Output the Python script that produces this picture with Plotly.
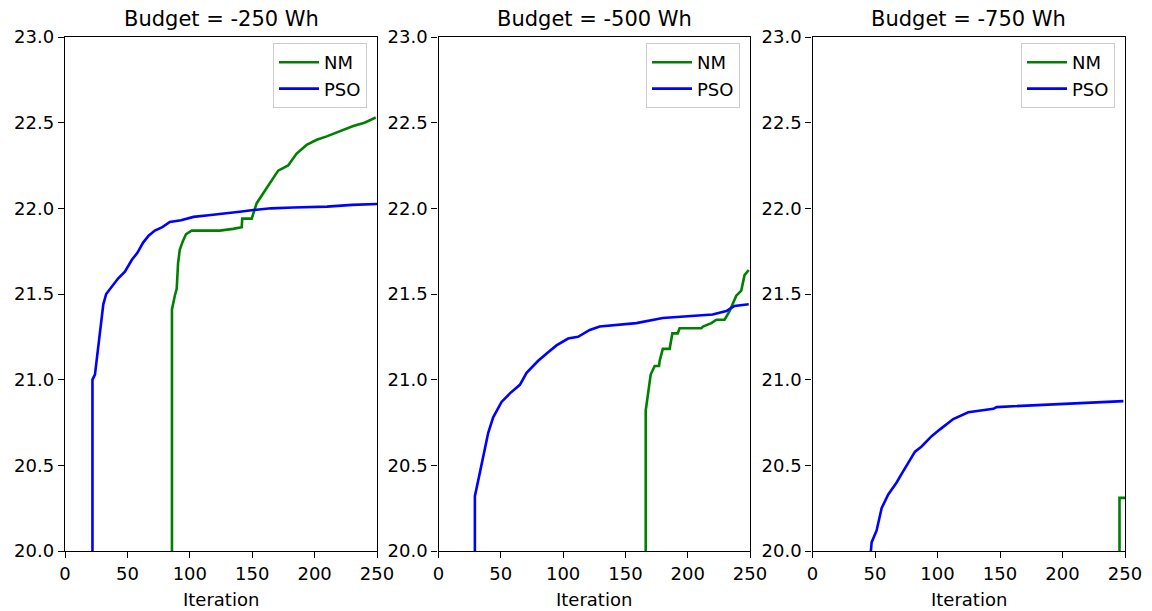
import plotly.graph_objects as go

# ---------------- data ----------------
titles = ["Budget = -250 Wh", "Budget = -500 Wh", "Budget = -750 Wh"]
x_label = "Iteration"
x_ticks = [0, 50, 100, 150, 200, 250]
y_ticks = [20.0, 20.5, 21.0, 21.5, 22.0, 22.5, 23.0]

# Budget -250
pso1_x = [22, 22, 24, 26, 28, 30.7, 33, 36, 42.5, 48, 53.6, 58, 62.6, 67, 72, 78, 84, 93, 103, 115, 129.6, 140, 151, 165, 183, 210, 230, 250]
pso1_y = [18.0, 21.00, 21.03, 21.15, 21.29, 21.44, 21.50, 21.53, 21.59, 21.63, 21.70, 21.74, 21.80, 21.84, 21.87, 21.89, 21.92, 21.93, 21.95, 21.96, 21.97, 21.98, 21.99, 22.00, 22.005, 22.01, 22.02, 22.025]
nm1_x = [85.7, 85.7, 88, 89.5, 90.6, 92, 94.5, 97, 101.5, 124, 134.6, 141.6, 142, 149.6, 153.6, 159, 165.6, 170.8, 178.8, 185.6, 193.6, 201.7, 209.7, 223, 231, 240, 249]
nm1_y = [18.0, 21.41, 21.49, 21.53, 21.68, 21.76, 21.81, 21.85, 21.87, 21.87, 21.88, 21.89, 21.94, 21.94, 22.03, 22.09, 22.16, 22.22, 22.25, 22.32, 22.37, 22.40, 22.42, 22.46, 22.48, 22.50, 22.53]

# Budget -500
pso2_x = [29.2, 29.2, 32.7, 35.9, 39.9, 43.9, 50.6, 57.3, 65.3, 70.7, 80, 88, 94.7, 104, 112, 121.4, 129.4, 158.8, 180, 220, 231, 237.6, 249]
pso2_y = [18.0, 20.32, 20.44, 20.55, 20.69, 20.78, 20.87, 20.92, 20.97, 21.04, 21.11, 21.16, 21.20, 21.24, 21.25, 21.29, 21.31, 21.33, 21.36, 21.38, 21.40, 21.43, 21.44]
nm2_x = [166.3, 166.3, 170.3, 173.5, 177, 177.5, 180, 185.5, 187.7, 192, 193.5, 210.9, 212.2, 219, 223, 229.6, 233.6, 239, 243, 245.6, 249]
nm2_y = [18.0, 20.82, 21.03, 21.08, 21.08, 21.11, 21.18, 21.18, 21.27, 21.27, 21.30, 21.30, 21.31, 21.33, 21.35, 21.35, 21.40, 21.49, 21.52, 21.61, 21.64]

# Budget -750
pso3_x = [44.5, 47.3, 51.3, 55.3, 60.6, 67.3, 71.3, 78, 82, 87.3, 95.3, 102, 112.6, 124.6, 144.7, 147.3, 176.6, 224.7, 248.7]
pso3_y = [19.80, 20.05, 20.12, 20.25, 20.33, 20.40, 20.45, 20.53, 20.58, 20.61, 20.67, 20.71, 20.77, 20.81, 20.83, 20.84, 20.85, 20.865, 20.875]
nm3_x = [245.6, 245.6, 250]
nm3_y = [18.0, 20.31, 20.31]

series = [
    (nm1_x, nm1_y, pso1_x, pso1_y),
    (nm2_x, nm2_y, pso2_x, pso2_y),
    (nm3_x, nm3_y, pso3_x, pso3_y),
]

# ---------------- layout geometry ----------------
# the page body adds an 8px margin, so the figure is drawn 8px in from the corner
OFF = 8
W, H = 1152 - OFF, 611 - OFF
x_px = [(65 - OFF, 377 - OFF), (438.5 - OFF, 750 - OFF), (812.5 - OFF, 1125 - OFF)]
y_top, y_bot = 37 - OFF, 551 - OFF
ydom = [(H - y_bot) / H, (H - y_top) / H]

fig = go.Figure()
font = "DejaVu Sans, Verdana, sans-serif"
fs = 18

for i, (nx, ny, px, py) in enumerate(series):
    ax = "" if i == 0 else str(i + 1)
    leg = "legend" if i == 0 else f"legend{i + 1}"
    fig.add_trace(go.Scatter(x=nx, y=ny, mode="lines", name="NM",
                             line=dict(color="green", width=2.6),
                             xaxis=f"x{ax}", yaxis=f"y{ax}", legend=leg,
                             legendgroup=f"nm{i}"))
    fig.add_trace(go.Scatter(x=px, y=py, mode="lines", name="PSO",
                             line=dict(color="blue", width=2.6),
                             xaxis=f"x{ax}", yaxis=f"y{ax}", legend=leg,
                             legendgroup=f"pso{i}"))

layout = dict(
    width=W, height=H,
    margin=dict(l=0, r=0, t=0, b=0, autoexpand=False),
    plot_bgcolor="white", paper_bgcolor="white",
    font=dict(family=font, size=fs, color="black"),
    showlegend=True,
    annotations=[],
)

axis_common = dict(showline=True, mirror=True, linecolor="black", linewidth=1.4,
                   ticks="outside", ticklen=6, tickwidth=1.4, tickcolor="black",
                   showgrid=False, zeroline=False, automargin=False,
                   tickfont=dict(family=font, size=fs, color="black"))

for i in range(3):
    ax = "" if i == 0 else str(i + 1)
    x0, x1 = x_px[i]
    layout[f"xaxis{ax}"] = dict(
        domain=[x0 / W, x1 / W], anchor=f"y{ax}", range=[0, 250],
        tickvals=x_ticks, ticktext=[str(v) for v in x_ticks],
        **axis_common)
    layout[f"yaxis{ax}"] = dict(
        domain=ydom, anchor=f"x{ax}", range=[20, 23],
        tickvals=y_ticks, ticktext=[f"{v:.1f}" for v in y_ticks],
        **axis_common)
    layout["annotations"].append(dict(
        text=titles[i], xref="paper", yref="paper",
        x=(x0 + x1) / 2 / W, y=(H - (19 - OFF)) / H,
        xanchor="center", yanchor="middle", showarrow=False, borderpad=0,
        font=dict(family=font, size=21, color="black")))
    layout["annotations"].append(dict(
        text=x_label, xref="paper", yref="paper",
        x=(x0 + x1) / 2 / W, y=(H - (599 - OFF)) / H,
        xanchor="center", yanchor="middle", showarrow=False, borderpad=0,
        font=dict(family=font, size=fs, color="black")))
    leg = "legend" if i == 0 else f"legend{i + 1}"
    layout[leg] = dict(
        x=(x1 - 10) / W, y=(H - (43 - OFF)) / H, xanchor="right", yanchor="top",
        bgcolor="rgba(255,255,255,0.8)", bordercolor="#cccccc", borderwidth=1,
        font=dict(family=font, size=fs, color="black"),
        tracegroupgap=0, itemwidth=40)

fig.update_layout(**layout)
fig.write_html("out.html")
